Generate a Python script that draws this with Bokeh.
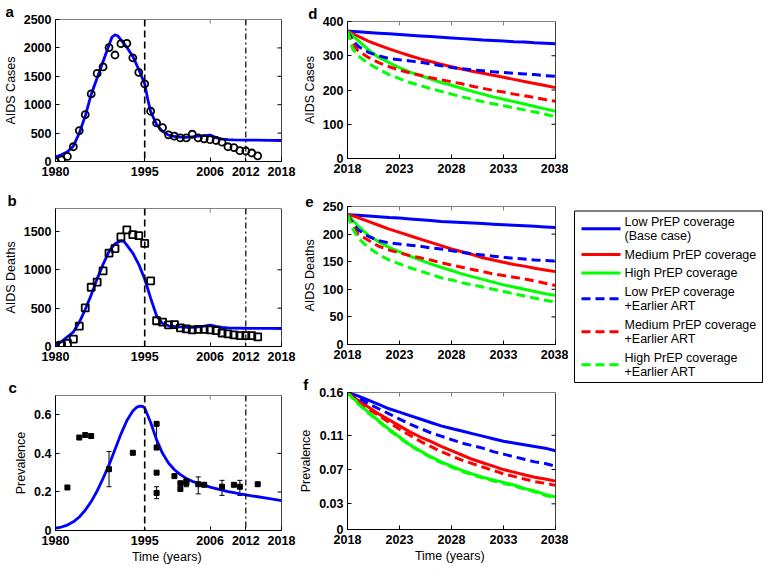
import math
from bokeh.plotting import figure
from bokeh.models import (Range1d, FixedTicker, Span, ColumnDataSource,
                          Whisker, TeeHead, NumeralTickFormatter)
from bokeh.layouts import row, column
from bokeh.embed import file_html
from bokeh.resources import INLINE
from bokeh.core.properties import value

# ---------------- data ----------------
DATA_YEARS = list(range(1980, 2015))
CASES_DATA = [0, 30, 90, 260, 545, 825, 1190, 1550, 1665, 2005, 1875, 2075, 2080, 1825, 1570,
              1365, 885, 680, 595, 470, 445, 415, 415, 480, 415, 400, 385, 370, 340, 260,
              245, 190, 185, 150, 100]
DEATHS_DATA = [8, 17, 42, 97, 265, 505, 773, 840, 987, 1218, 1277, 1429, 1521, 1458, 1445,
               1345, 857, 336, 319, 282, 286, 244, 231, 218, 223, 223, 218, 206, 176, 164,
               151, 143, 143, 143, 126]

MODEL_A_YEARS = [1980, 1981, 1982, 1983, 1984, 1985, 1986, 1987, 1988, 1989, 1989.5, 1990, 1990.5,
                 1991, 1992, 1993, 1994, 1995, 1995.5, 1996, 1997, 1998, 1999, 2000, 2001, 2002,
                 2003, 2004, 2005, 2006, 2007, 2008, 2009, 2010, 2012, 2014, 2016, 2018]
MODEL_A = [80, 120, 170, 270, 500, 800, 1180, 1470, 1760, 2050, 2190, 2230, 2210, 2140, 2010,
           1850, 1620, 1370, 1100, 880, 650, 530, 465, 440, 430, 425, 435, 445, 455, 465, 420,
           395, 385, 380, 377, 375, 373, 370]

MODEL_B_YEARS = [1980, 1981, 1982, 1983, 1984, 1985, 1986, 1987, 1988, 1989, 1990, 1991, 1991.5,
                 1992, 1993, 1994, 1995, 1996, 1997, 1998, 1999, 2000, 2001, 2002, 2003, 2004,
                 2005, 2006, 2007, 2008, 2009, 2010, 2012, 2014, 2016, 2018]
MODEL_B = [20, 63, 126, 189, 315, 483, 672, 882, 1071, 1240, 1340, 1378, 1370, 1323, 1218, 1071,
           880, 630, 400, 300, 270, 262, 255, 250, 250, 255, 265, 280, 262, 248, 242, 240, 238,
           237, 236, 235]

MODEL_C_YEARS = [1980, 1981, 1982, 1983, 1984, 1985, 1986, 1987, 1988, 1989, 1990, 1991, 1992,
                 1993, 1993.7, 1994.2, 1994.7, 1995, 1996, 1997, 1998, 1999, 2000, 2001, 2002,
                 2003, 2004, 2005, 2006, 2007, 2008, 2009, 2010, 2011, 2012, 2013, 2014, 2015,
                 2016, 2017, 2018]
MODEL_C = [0.012, 0.018, 0.028, 0.045, 0.07, 0.105, 0.15, 0.205, 0.27, 0.34, 0.42, 0.5, 0.57,
           0.62, 0.64, 0.645, 0.643, 0.635, 0.56, 0.47, 0.4, 0.35, 0.315, 0.29, 0.27, 0.255,
           0.245, 0.235, 0.225, 0.217, 0.209, 0.202, 0.196, 0.19, 0.185, 0.18, 0.175, 0.17,
           0.165, 0.16, 0.155]

PREV_YEARS = [1982, 1984, 1985, 1986, 1989, 1993, 1997, 1997, 1997, 1997, 2000, 2001, 2001,
              2002, 2002, 2004, 2005, 2008, 2010, 2011, 2014]
PREV_DATA = [0.223, 0.482, 0.495, 0.49, 0.318, 0.403, 0.553, 0.43, 0.30, 0.195, 0.282, 0.245,
             0.215, 0.245, 0.255, 0.24, 0.237, 0.227, 0.237, 0.227, 0.24]
ERR_YEARS = [1989, 1997, 1997, 2002, 2004, 2008, 2011]
ERR_LOW = [0.227, 0.43, 0.165, 0.227, 0.19, 0.182, 0.182]
ERR_HIGH = [0.41, 0.553, 0.227, 0.268, 0.278, 0.26, 0.26]

PROJ_YEARS = [2018, 2018.5, 2019, 2020, 2021, 2022, 2023, 2024, 2025, 2026, 2027, 2028, 2029,
              2030, 2031, 2032, 2033, 2034, 2035, 2036, 2037, 2038]

# panel d: AIDS cases
D_LOW = [372, 371, 370, 368, 366, 364, 362, 360, 358, 356, 354, 352, 350, 348, 346, 344.5, 343,
         341, 340, 338, 336.5, 335]
D_MED = [372, 364, 357, 343, 331, 320, 310, 300, 291, 283, 275, 268, 261, 255, 249, 243, 237,
         231, 225, 219, 213, 207]
D_HIGH = [372, 358, 345, 318, 295, 280, 265, 252, 242, 232, 222, 214, 205, 196, 188, 180, 173,
          166, 159, 152, 145, 138]
D_LOW_ART = [372, 345, 328, 310, 300, 292, 288, 285, 281, 276, 271, 266, 262, 259, 256, 253, 251,
             249, 247, 245, 242, 240]
D_MED_ART = [372, 335, 315, 295, 280, 268, 258, 250, 243, 236, 230, 224, 218, 211, 205, 199, 194,
             188, 183, 178, 172, 167]
D_HIGH_ART = [372, 320, 300, 278, 260, 245, 233, 222, 213, 204, 196, 188, 180, 173, 166, 160,
              154, 148, 142, 136, 129, 122]

# panel e: AIDS deaths
E_LOW = [235, 234.5, 234, 233, 231.5, 230, 229, 227.5, 226, 224.5, 223, 222, 221, 220, 219, 218,
         217, 216, 215, 214, 213, 212]
E_MED = [235, 233, 230, 223, 216, 209, 203, 197, 191, 185, 179, 173, 168, 163, 157, 153, 149,
         145, 142, 138, 135, 132]
E_HIGH = [235, 225, 215, 198, 186, 176, 168, 160, 153, 146, 140, 134, 128, 123, 118, 113, 108,
          104, 100, 96, 92, 89]
E_LOW_ART = [235, 220, 208, 196, 188, 184, 182, 180, 178, 175, 173, 170, 167, 164, 162, 160, 158,
             156, 155, 153, 152, 151]
E_MED_ART = [235, 215, 200, 189, 178, 171, 166, 161, 157, 153, 148, 144, 140, 136, 132, 128, 125,
             122, 119, 115, 111, 107]
E_HIGH_ART = [235, 210, 193, 176, 163, 153, 146, 139, 133, 127, 121, 117, 112, 108, 104, 100, 96,
              92, 88, 84, 80, 77]

# panel f: prevalence
F_LOW = [0.16, 0.158, 0.156, 0.151, 0.146, 0.141, 0.137, 0.133, 0.129, 0.125, 0.121, 0.118,
         0.115, 0.112, 0.109, 0.106, 0.103, 0.101, 0.099, 0.097, 0.095, 0.092]
F_MED = [0.16, 0.155, 0.151, 0.143, 0.135, 0.128, 0.121, 0.114, 0.108, 0.103, 0.097, 0.092,
         0.087, 0.082, 0.078, 0.074, 0.070, 0.067, 0.064, 0.061, 0.059, 0.0565]
F_HIGH = [0.16, 0.154, 0.148, 0.137, 0.127, 0.117, 0.108, 0.099, 0.092, 0.085, 0.079, 0.074,
          0.069, 0.065, 0.061, 0.058, 0.055, 0.052, 0.048, 0.045, 0.041, 0.038]
F_LOW_ART = [0.16, 0.157, 0.154, 0.147, 0.141, 0.135, 0.129, 0.123, 0.118, 0.113, 0.109, 0.105,
             0.101, 0.098, 0.095, 0.091, 0.088, 0.085, 0.082, 0.079, 0.077, 0.074]
F_MED_ART = [0.16, 0.155, 0.150, 0.141, 0.133, 0.125, 0.117, 0.110, 0.103, 0.097, 0.091, 0.086,
             0.081, 0.077, 0.073, 0.069, 0.065, 0.062, 0.059, 0.056, 0.054, 0.0515]
F_HIGH_ART = [0.16, 0.153, 0.147, 0.136, 0.126, 0.116, 0.107, 0.098, 0.091, 0.084, 0.078, 0.073,
              0.068, 0.064, 0.060, 0.057, 0.054, 0.051, 0.047, 0.044, 0.040, 0.037]

SCENARIOS = [
    (["Low PrEP coverage", "(Base case)"], "#0000ff", "solid"),
    (["Medium PrEP coverage"], "#ff0000", "solid"),
    (["High PrEP coverage"], "#00ff00", "solid"),
    (["Low PrEP coverage", "+Earlier ART"], "#0000ff", "dashed"),
    (["Medium PrEP coverage", "+Earlier ART"], "#ff0000", "dashed"),
    (["High PrEP coverage", "+Earlier ART"], "#00ff00", "dashed"),
]

HIST_TICKS = [1980, 1995, 2006, 2012, 2018]
PROJ_TICKS = [2018, 2023, 2028, 2033, 2038]

FONT = "Liberation Sans"
TICK_FS = "12.5px"
LABEL_FS = "12.5px"
DASH = "9 5"


def panel(w, h, xr, yr, bl, br, bt, bb, xticks, yticks, ylabel, xlabel, fmt, letter, lx, pad):
    p = figure(width=w, height=h, x_range=Range1d(*xr), y_range=Range1d(*yr),
               output_backend="svg", toolbar_location=None,
               min_border_left=bl, min_border_right=br, min_border_top=bt, min_border_bottom=bb)
    p.outline_line_color = "#808080"
    p.outline_line_width = 1
    p.grid.visible = False
    p.background_fill_color = "white"
    p.border_fill_color = "white"
    xa = p.xaxis[0]
    ya = p.yaxis[0]
    for ax, tk in ((xa, xticks), (ya, yticks)):
        ax.ticker = FixedTicker(ticks=tk)
        ax.major_tick_in = 4
        ax.major_tick_out = 0
        ax.minor_tick_line_color = None
        ax.axis_line_color = "black"
        ax.major_tick_line_color = "black"
        ax.major_label_text_font = FONT
        ax.major_label_text_font_size = TICK_FS
        ax.major_label_text_font_style = "bold"
        ax.major_label_text_color = "black"
        ax.axis_label_text_font = FONT
        ax.axis_label_text_font_size = LABEL_FS
        ax.axis_label_text_font_style = "normal"
        ax.axis_label_text_color = "black"
    ya.axis_label = ylabel
    ya.major_label_standoff = 4
    ya.axis_label_standoff = 3
    ya.formatter = fmt
    xa.major_label_standoff = 5
    xa.formatter = NumeralTickFormatter(format="0")
    if xlabel:
        xa.axis_label = xlabel
        xa.axis_label_standoff = 2
    # inward tick marks on the top and right edges of the box
    inner_x = xticks[1:-1]
    inner_y = yticks[1:-1]
    p.scatter(inner_x, [yr[1]] * len(inner_x), marker="dash", angle=math.pi / 2, size=8,
              line_color="#808080", line_width=1)
    p.scatter([xr[1]] * len(inner_y), inner_y, marker="dash", size=8,
              line_color="black", line_width=1)
    p.add_layout(Span(location=xr[1], dimension="height", line_color="black", line_width=1))
    # panel letter
    p.title.text = letter
    p.title.align = "left"
    p.title.offset = lx - bl
    p.title.standoff = 0
    p.title.padding = dict(left=0, right=0, top=pad, bottom=0)
    p.title.text_font = FONT
    p.title.text_font_size = "15px"
    p.title.text_font_style = "bold"
    p.title.text_color = "black"
    return p


def vlines(p):
    p.add_layout(Span(location=1995, dimension="height", line_color="black",
                      line_width=1.6, line_dash="7 4"))
    p.add_layout(Span(location=2012, dimension="height", line_color="black",
                      line_width=1.2, line_dash="6 3 2 3"))


INT_FMT = NumeralTickFormatter(format="0")
DEC_FMT = NumeralTickFormatter(format="0.[00]")

# ---- panel a ----
pa = panel(296, 185, (1980, 2018), (0, 2500), 51, 15, 18, 24, HIST_TICKS,
           [0, 500, 1000, 1500, 2000, 2500], "AIDS Cases", None, INT_FMT, "a", 1, 0)
vlines(pa)
pa.line(MODEL_A_YEARS, MODEL_A, line_color="#0000ff", line_width=2.8)
pa.scatter(DATA_YEARS, CASES_DATA, marker="circle", size=7, fill_color=None,
           line_color="black", line_width=1.8)

# ---- panel b ----
pb = panel(296, 187, (1980, 2018), (0, 1800), 49, 14, 22, 26, HIST_TICKS,
           [0, 500, 1000, 1500], "AIDS Deaths", None, INT_FMT, "b", 1, 4)
vlines(pb)
pb.line(MODEL_B_YEARS, MODEL_B, line_color="#0000ff", line_width=2.8)
pb.scatter(DATA_YEARS, DEATHS_DATA, marker="square", size=7, fill_color=None,
           line_color="black", line_width=1.8)

# ---- panel c ----
pc = panel(296, 194, (1980, 2018), (0, 0.7), 48, 13, 23, 35, HIST_TICKS,
           [0, 0.2, 0.4, 0.6], "Prevalence", "Time  (years)", DEC_FMT, "c", 1, 4)
vlines(pc)
pc.line(MODEL_C_YEARS, MODEL_C, line_color="#0000ff", line_width=2.8)
err_src = ColumnDataSource(dict(x=ERR_YEARS, lo=ERR_LOW, hi=ERR_HIGH))
pc.add_layout(Whisker(source=err_src, base="x", lower="lo", upper="hi", dimension="height",
                      line_color="black", line_width=1,
                      upper_head=TeeHead(size=5, line_color="black", line_width=1),
                      lower_head=TeeHead(size=5, line_color="black", line_width=1)))
pc.scatter(PREV_YEARS, PREV_DATA, marker="square", size=5, fill_color="black",
           line_color="black")


# ---- right panels ----
def scen_lines(p, series):
    for (lab, col, dash), ys in zip(SCENARIOS, series):
        p.line(PROJ_YEARS, ys, line_color=col, line_width=3,
               line_dash=(DASH if dash == "dashed" else "solid"))


pd_ = panel(272, 184, (2018, 2038), (0, 400), 43, 12, 21, 26, PROJ_TICKS,
            [0, 100, 200, 300, 400], "AIDS Cases", None, INT_FMT, "d", 3.8, 1)
scen_lines(pd_, [D_LOW, D_MED, D_HIGH, D_LOW_ART, D_MED_ART, D_HIGH_ART])

pe = panel(272, 182, (2018, 2038), (0, 250), 46, 13, 22, 22, PROJ_TICKS,
           [0, 50, 100, 150, 200, 250], "AIDS Deaths", None, INT_FMT, "e", 3.8, 3)
scen_lines(pe, [E_LOW, E_MED, E_HIGH, E_LOW_ART, E_MED_ART, E_HIGH_ART])

pf = panel(272, 200, (2018, 2038), (0, 0.16), 48, 8, 26, 37, PROJ_TICKS,
           [0, 0.03, 0.07, 0.11, 0.16], "Prevalence", "Time  (years)", DEC_FMT, "f", 3.8, 5)
scen_lines(pf, [F_LOW, F_MED, F_HIGH, F_LOW_ART, F_MED_ART, F_HIGH_ART])

# ---- legend ----
pl = figure(width=195, height=566, x_range=Range1d(0, 195), y_range=Range1d(566, 0),
            output_backend="svg", toolbar_location=None, x_axis_type=None, y_axis_type=None,
            min_border_left=0, min_border_right=0, min_border_top=0, min_border_bottom=0)
pl.outline_line_color = None
pl.grid.visible = False
pl.quad(left=[6], right=[194], top=[210.5], bottom=[382], fill_color="white",
        line_color="black", line_width=1)
y = 221.0
for lines, col, dash in SCENARIOS:
    ys = []
    for t in lines:
        ys.append(y)
        y += 14.5
    y += 4.0
    mid = sum(ys) / len(ys)
    pl.line([13, 52], [mid, mid], line_color=col, line_width=3,
            line_dash=(DASH if dash == "dashed" else "solid"))
    pl.text(x=[56] * len(lines), y=ys, text=lines, text_font=value(FONT),
            text_font_size="12.5px", text_baseline="middle", text_align="left",
            text_color="black")

layout = row(column(pa, pb, pc), column(pd_, pe, pf), pl)
open("out.html", "w").write(file_html(layout, INLINE))
